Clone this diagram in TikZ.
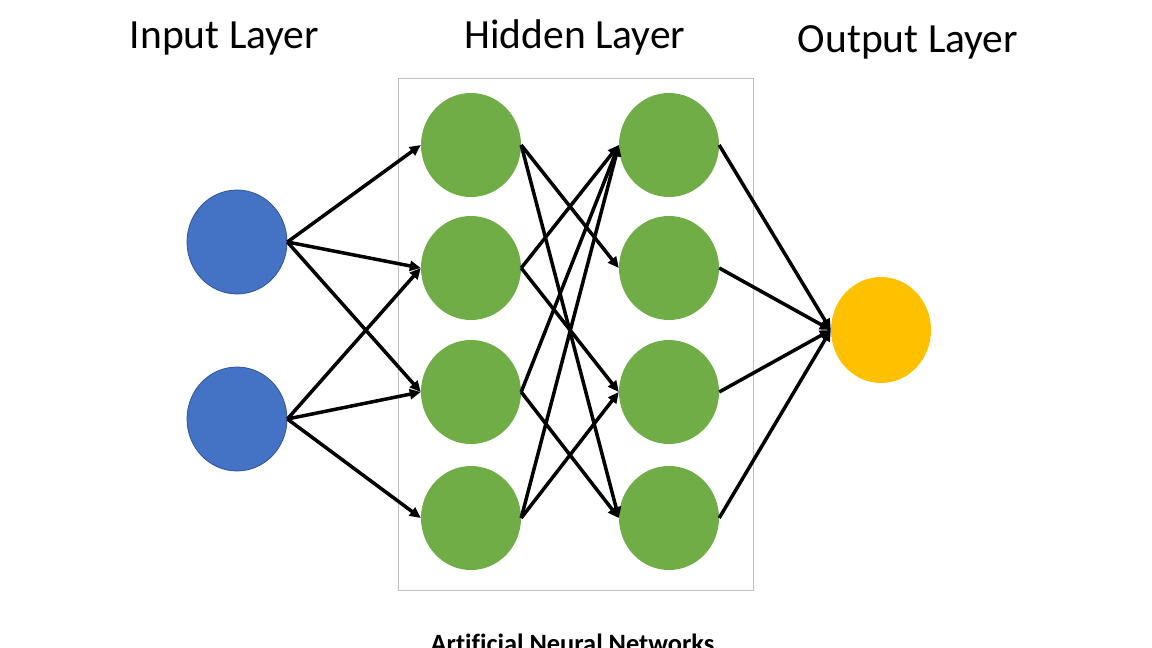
\documentclass[tikz,border=0pt]{standalone}
\usepackage{fontspec}
\setmainfont{Carlito}[Ligatures=NoCommon]
\usetikzlibrary{shapes.geometric,arrows.meta}
\definecolor{inblue}{HTML}{4472C4}
\definecolor{inborder}{HTML}{2F528F}
\definecolor{hidgreen}{HTML}{70AD47}
\definecolor{outorange}{HTML}{FFC000}
\definecolor{boxgray}{HTML}{BFBFBF}
\tikzset{
  neuron/.style={ellipse, inner sep=0pt, minimum width=100pt, minimum height=104pt},
  inneuron/.style={neuron, fill=inblue, draw=inborder, line width=0.75pt},
  hidneuron/.style={neuron, fill=hidgreen},
  outneuron/.style={neuron, fill=outorange, minimum height=106pt},
  link/.style={line width=3.5pt, -{Triangle[length=11pt,width=10pt]}},
  layerlabel/.style={anchor=base, inner sep=0pt, font=\fontsize{41.5}{48}\selectfont},
  caption/.style={anchor=base, inner sep=0pt, font=\bfseries\fontsize{26.4}{30}\selectfont}
}
\begin{document}
\begin{tikzpicture}[x=1pt,y=-1pt]
\useasboundingbox (0,0) rectangle (1152,648);
\clip (0,0) rectangle (1152,648);
\fill[white] (0,0) rectangle (1152,648);
% frame around hidden layer
\node[draw=boxgray, line width=1pt, inner sep=0pt, minimum width=355pt, minimum height=512pt] (frame) at (575.5,334) {};
% labels
\node[layerlabel] (linput) at (224.5,48) {Input Layer};
\node[layerlabel] (lhidden) at (575,48) {Hidden Layer};
\node[layerlabel] (loutput) at (908,52) {Output Layer};
\node[caption] (cap) at (572.5,652) {Artificial Neural Networks};
% neurons
\node[inneuron] (i1) at (237,242) {};
\node[inneuron] (i2) at (237,419) {};
\node[hidneuron] (h1) at (471,145) {};
\node[hidneuron] (h2) at (471,268) {};
\node[hidneuron] (h3) at (471,392) {};
\node[hidneuron] (h4) at (471,518) {};
\node[hidneuron] (g1) at (669,145) {};
\node[hidneuron] (g2) at (669,268) {};
\node[hidneuron] (g3) at (669,392) {};
\node[hidneuron] (g4) at (669,518) {};
\node[outneuron] (o) at (881,330) {};
% connections
\foreach \s/\t in {i1/h1,i1/h2,i1/h3,i2/h2,i2/h3,i2/h4,
                   h1/g2,h1/g4,h2/g1,h2/g3,h3/g1,h3/g4,h4/g1,h4/g3,
                   g1/o,g2/o,g3/o,g4/o}
  \draw[link] (\s.east) -- (\t.west);
\end{tikzpicture}
\end{document}
